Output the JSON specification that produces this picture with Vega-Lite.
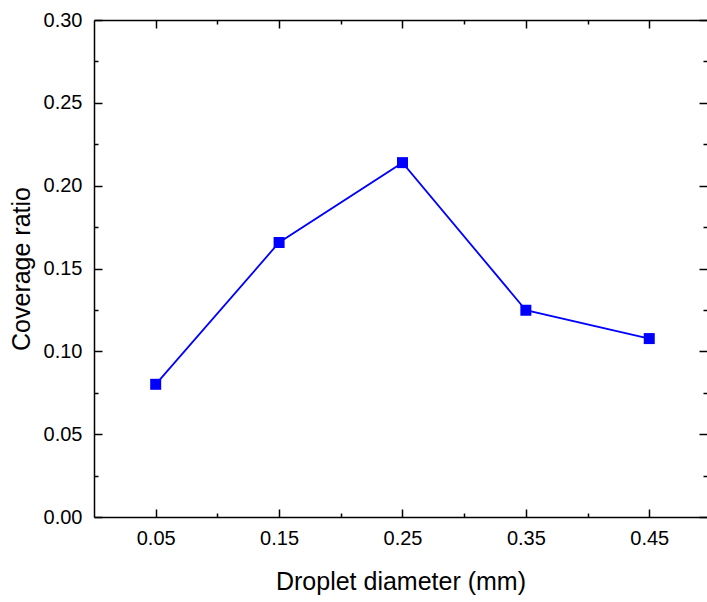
{
  "$schema": "https://vega.github.io/schema/vega-lite/v6.json",
  "width": 613,
  "height": 497,
  "autosize": "none",
  "padding": {"left": 94, "top": 20, "right": 0, "bottom": 85},
  "background": "white",
  "config": {
    "view": {"stroke": null},
    "axis": {
      "domainColor": "black",
      "tickColor": "black",
      "labelColor": "black",
      "titleColor": "black",
      "labelFont": "Liberation Sans",
      "titleFont": "Liberation Sans",
      "labelFontSize": 20,
      "titleFontSize": 25,
      "titleFontWeight": "normal",
      "grid": false,
      "domainWidth": 1.5,
      "tickWidth": 1.5
    }
  },
  "data": {
    "values": [
      {"d": 0.05, "ratio": 0.0801},
      {"d": 0.15, "ratio": 0.1657},
      {"d": 0.25, "ratio": 0.2139},
      {"d": 0.35, "ratio": 0.1248},
      {"d": 0.45, "ratio": 0.1077}
    ]
  },
  "layer": [
    {
      "mark": {"type": "line", "color": "#0000FF", "strokeWidth": 1.8},
      "encoding": {
        "x": {
          "field": "d", "type": "quantitative",
          "scale": {"domain": [0, 0.4968], "nice": false, "zero": false},
          "axis": {"orient": "bottom", "values": [0.05, 0.15, 0.25, 0.35, 0.45], "format": ".2f", "tickSize": -8, "labelPadding": 19, "title": "Droplet diameter (mm)", "titlePadding": 21}
        },
        "y": {
          "field": "ratio", "type": "quantitative",
          "scale": {"domain": [0, 0.3], "nice": false, "zero": false},
          "axis": {"orient": "left", "values": [0, 0.05, 0.1, 0.15, 0.2, 0.25, 0.3], "format": ".2f", "tickSize": -8, "labelPadding": 20, "title": "Coverage ratio", "titlePadding": 9}
        }
      }
    },
    {
      "mark": {"type": "square", "color": "#0000FF", "filled": true, "opacity": 1, "size": 121},
      "encoding": {
        "x": {
          "field": "d", "type": "quantitative",
          "axis": {"orient": "bottom", "values": [0.1, 0.2, 0.3, 0.4], "labels": false, "domain": false, "tickSize": -4, "title": null}
        },
        "y": {
          "field": "ratio", "type": "quantitative",
          "axis": {"orient": "left", "values": [0.025, 0.075, 0.125, 0.175, 0.225, 0.275], "labels": false, "domain": false, "tickSize": -4, "title": null}
        }
      }
    },
    {
      "mark": {"type": "point", "opacity": 0},
      "encoding": {
        "x": {
          "field": "d", "type": "quantitative",
          "axis": {"orient": "top", "values": [0.05, 0.15, 0.25, 0.35, 0.45], "labels": false, "tickSize": -8, "title": null}
        },
        "y": {
          "field": "ratio", "type": "quantitative",
          "axis": {"orient": "right", "values": [0, 0.05, 0.1, 0.15, 0.2, 0.25, 0.3], "labels": false, "domain": false, "tickSize": -8, "title": null}
        }
      }
    },
    {
      "mark": {"type": "point", "opacity": 0},
      "encoding": {
        "x": {
          "field": "d", "type": "quantitative",
          "axis": {"orient": "top", "values": [0.1, 0.2, 0.3, 0.4], "labels": false, "domain": false, "tickSize": -4, "title": null}
        },
        "y": {
          "field": "ratio", "type": "quantitative",
          "axis": {"orient": "right", "values": [0.025, 0.075, 0.125, 0.175, 0.225, 0.275], "labels": false, "domain": false, "tickSize": -4, "title": null}
        }
      }
    }
  ],
  "resolve": {"axis": {"x": "independent", "y": "independent"}}
}
